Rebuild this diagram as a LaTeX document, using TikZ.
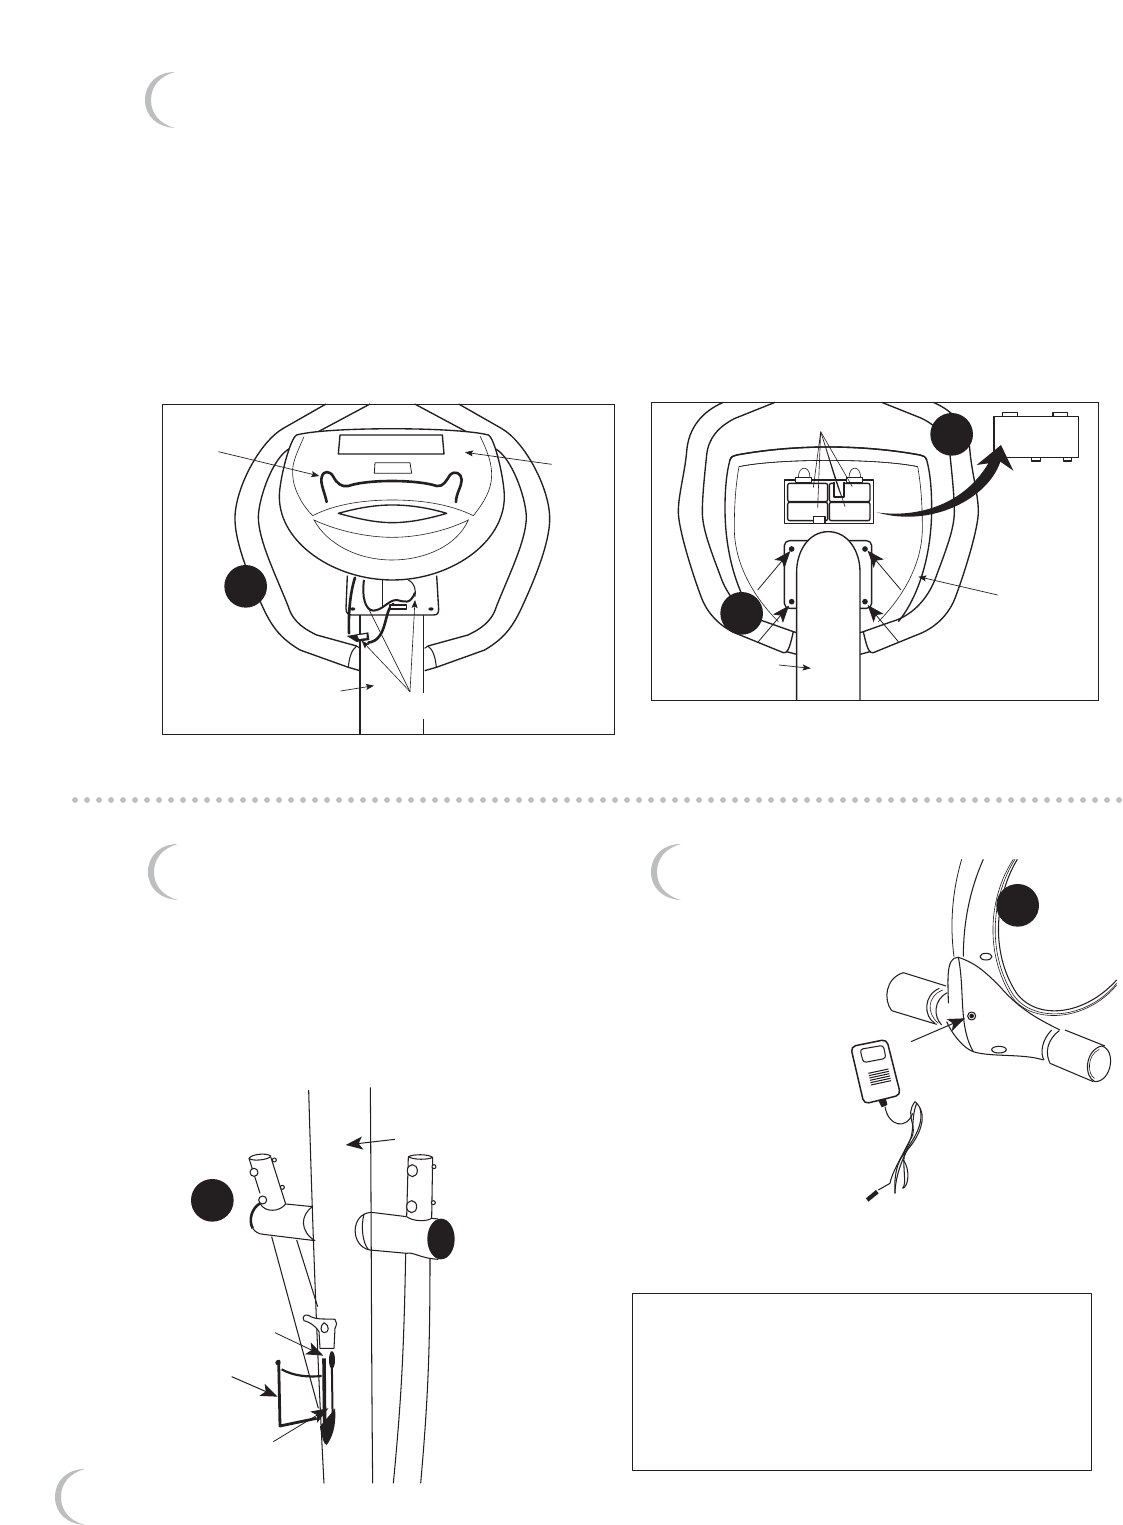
\documentclass[tikz,border=0pt]{standalone}
\usetikzlibrary{arrows.meta}
\definecolor{ink}{HTML}{231F20}
\definecolor{soft}{HTML}{BDBEC0}
\tikzset{
 ln/.style={draw=ink,line width=1.35pt,line join=round},
 md/.style={draw=ink,line width=1.05pt,line join=round},
 thin line/.style={draw=ink,line width=0.6pt},
 hv/.style={draw=ink,line width=2.6pt,line cap=round,line join=round},
 lead/.style={draw=ink,line width=0.7pt,-{Stealth[length=8pt,width=6pt,inset=1.5pt]}},
 leadb/.style={draw=ink,line width=0.8pt,-{Stealth[length=17pt,width=13pt,inset=4pt]}},
 badge/.style={fill=ink,draw=none},
 frame/.style={draw=ink,line width=0.9pt},
 zoomed/.style={x=0.33333pt,y=-0.33333pt},
}
\newcommand{\crescent}[2]{\fill[soft,shift={(#1,#2)}] (30,0) .. controls (12,0) and (0,12) .. (0,28) .. controls (0,44) and (12,55) .. (30,56) .. controls (15,52) and (6,42) .. (6,28) .. controls (6,14) and (15,4) .. (30,0) -- cycle;}
\begin{document}
\begin{tikzpicture}[x=1pt,y=-1pt]
\useasboundingbox (0,0) rectangle (1123,1525);
\fill[white] (0,0) rectangle (1123,1525);
\crescent{145}{72}
\crescent{148}{844}
\crescent{651}{844}
\crescent{55}{1469}
\foreach \i in {0,...,87} \fill[soft] (75+12*\i,800) circle (2.9);
\draw[md,line width=0.8pt] (632,1293) rectangle (1091,1470);

% ---------- panel 1
\begin{scope}[zoomed,shift={(480,1200)}]
\def\halfA{
 \draw[ln] (498,12) -- (370,85) .. controls (300,125) and (228,260) .. (225,350) .. controls (222,430) and (280,560) .. (310,625) .. controls (340,690) and (370,720) .. (420,750) -- (565,802) -- (600,812);
 \draw[md] (565,802) .. controls (568,770) and (575,750) .. (590,738) -- (600,745);
 \draw[ln] (630,12) -- (475,95);
 \draw[ln] (390,145) .. controls (340,170) and (297,290) .. (295,350) .. controls (295,420) and (345,520) .. (385,620) .. controls (400,670) and (440,690) .. (470,705) -- (590,738);
}
\halfA
\begin{scope}[xshift=464.67pt,xscale=-1]\halfA\end{scope}
\path[fill=white,ln] (410,105) .. controls (500,80) and (890,80) .. (985,105) .. controls (1005,115) and (1033,240) .. (1033,290) .. controls (1033,430) and (870,540) .. (697,540) .. controls (524,540) and (358,430) .. (358,290) .. controls (358,240) and (390,115) .. (410,105) -- cycle;
\draw[thin line] (432,110) .. controls (410,160) and (395,190) .. (398,225) .. controls (400,270) and (430,320) .. (458,347) .. controls (530,310) and (620,300) .. (697,300) .. controls (775,300) and (865,310) .. (940,347) .. controls (970,310) and (995,270) .. (995,225) .. controls (995,190) and (985,160) .. (960,108);
\draw[ln] (540,105) -- (847,105) -- (852,162) -- (535,162) -- cycle;
\draw[thin line,line width=0.8pt] (645,188) -- (750,188) -- (755,220) -- (643,220) -- cycle;
\draw[ln] (535,340) .. controls (600,322) and (650,315) .. (697,315) .. controls (745,315) and (800,322) .. (860,340) .. controls (800,358) and (745,368) .. (697,368) .. controls (650,368) and (600,358) .. (535,340) -- cycle;
\draw[thin line] (462,360) .. controls (530,392) and (620,412) .. (697,412) .. controls (775,412) and (860,392) .. (925,360) .. controls (890,440) and (790,480) .. (697,480) .. controls (590,480) and (500,430) .. (462,360) -- cycle;
\draw[hv] (500,306) .. controls (495,280) and (480,250) .. (485,232) .. controls (490,210) and (510,212) .. (520,230) .. controls (530,250) and (545,262) .. (565,258) .. controls (620,238) and (770,238) .. (830,258) .. controls (850,262) and (860,240) .. (870,225) .. controls (885,210) and (905,220) .. (905,240) .. controls (905,260) and (888,280) .. (888,306);
% plate and column
\draw[ln] (562,527) -- (558,625) .. controls (558,640) and (565,645) .. (575,645) -- (820,645) .. controls (832,645) and (836,640) .. (836,628) -- (830,527);
\fill[ink] (578,627) ellipse (8 and 5);
\fill[ink] (813,627) ellipse (8 and 5);
\draw[md] (667,540) -- (667,625);
\draw[ln] (600,645) -- (600,1003);
\draw[ln] (790,645) -- (790,880);
\draw[ln] (790,958) -- (790,1003);
% wires
\draw[hv] (585,533) .. controls (570,580) and (565,640) .. (567,700);
\draw[line width=2pt,draw=ink] (612,540) .. controls (605,590) and (615,630) .. (640,632) .. controls (670,630) and (685,600) .. (710,600) .. controls (735,605) and (750,615) .. (765,578);
\draw[md] (745,540) .. controls (765,550) and (768,570) .. (765,590);
\draw[hv] (700,612) .. controls (670,630) and (685,720) .. (625,728);
\draw[md,fill=white] (690,615) rectangle (740,627);
\fill[ink] (560,708) -- (625,697) -- (628,720) -- (590,726) -- cycle;
\fill[white] (592,706) -- (620,702) -- (620,714) -- (597,717) -- cycle;
% leaders
\draw[lead] (175,155) -- (478,228);
\draw[lead] (1175,193) -- (915,157);
\draw[lead] (542,873) -- (642,857);
\draw[lead,line width=0.6pt] (750,875) -- (605,722);
\draw[thin line] (750,875) -- (625,625);
\draw[lead,line width=0.6pt] (750,875) -- (765,600);
\fill[badge] (257,559) circle (64);
\draw[frame] (8,12) rectangle (1363,1003);
\end{scope}

% ---------- panel 2
\begin{scope}[zoomed,shift={(1935,1185)}]
\def\halfB{
 \draw[ln] (235,22) .. controls (170,50) and (130,100) .. (125,170) .. controls (120,230) and (100,300) .. (100,350) .. controls (100,400) and (140,530) .. (170,610) .. controls (190,660) and (230,700) .. (285,720) -- (415,773) .. controls (425,775) and (432,770) .. (445,710) -- (360,680) .. controls (290,660) and (245,600) .. (225,540) .. controls (195,460) and (172,400) .. (172,350) .. controls (172,300) and (180,230) .. (185,180) .. controls (190,130) and (220,95) .. (270,70) -- (390,22);
 \draw[ln] (445,710) -- (455,713);
 \draw[ln] (425,770) -- (455,778);
 \draw[ln] (340,680) .. controls (290,620) and (240,500) .. (240,340) .. controls (240,280) and (245,230) .. (255,195) .. controls (258,185) and (265,182) .. (275,180) .. controls (450,148) and (650,148) .. (825,180) .. controls (835,182) and (842,185) .. (845,195);
 \draw[thin line] (400,680) .. controls (320,600) and (268,500) .. (268,400) .. controls (268,330) and (272,270) .. (282,215) .. controls (400,190) and (700,190) .. (818,215);
}
\halfB
\begin{scope}[xshift=366.67pt,xscale=-1]\halfB\end{scope}
\path[fill=white] (985,200) -- (1010,200) -- (1010,222) -- (995,222) -- cycle;
\draw[ln,line width=1.5pt] (418,255) rectangle (685,385);
\foreach \a/\b/\c/\d in {428/265/548/320,428/322/548/377,553/265/675/320,553/322/675/377}
 \draw[ln,rounded corners=2pt] (\a,\b) rectangle (\c,\d);
\draw[md,fill=white] (505,365) rectangle (540,385);
\draw[ln,fill=white] (452,262) -- (452,248) -- (500,248) -- (500,262) -- cycle;
\draw[ln,fill=white] (605,262) -- (605,248) -- (652,248) -- (652,262) -- cycle;
\draw[thin line] (460,248) .. controls (460,210) and (495,210) .. (495,248);
\draw[thin line] (612,248) .. controls (612,210) and (647,210) .. (647,248);
\draw[ln,fill=white,line width=1.5pt] (567,262) -- (567,306) -- (597,306) -- (597,262);
\draw[thin line] (505,278) -- (527,110) -- (518,338);
\draw[thin line] (590,305) .. controls (570,260) and (550,180) .. (527,110) -- (600,335);
\draw[thin line] (527,110) -- (622,275);
\draw[ln,rounded corners=5pt] (460,640) -- (418,640) -- (418,437) -- (680,437) -- (680,640) -- (640,640);
\fill[ink] (440,462) circle (8.5);
\fill[ink] (660,462) circle (8.5);
\fill[ink] (440,620) circle (8.5);
\fill[ink] (660,620) circle (8.5);
\path[fill=white,ln] (455,915) -- (455,530) .. controls (455,470) and (490,410) .. (550,410) .. controls (610,410) and (645,470) .. (645,530) -- (645,915);
\draw[leadb] (338,585) -- (436,468);
\draw[leadb] (340,740) -- (432,632);
\draw[leadb] (768,585) -- (668,467);
\draw[leadb] (760,740) -- (668,630);
\draw[lead] (1058,600) -- (820,545);
\draw[lead] (402,810) -- (497,820);
\fill[ink] (695,352) .. controls (800,368) and (950,340) .. (1030,205) -- (995,210) -- (1068,150) -- (1105,227) -- (1066,200) .. controls (1030,310) and (860,400) .. (695,352) -- cycle;
\draw[ln,line width=1.5pt] (1047,65) rectangle (1300,188);
\draw[md] (1073,65) -- (1073,53) -- (1117,53) -- (1117,65);
\draw[md] (1224,65) -- (1224,53) -- (1268,53) -- (1268,65);
\draw[md] (1160,188) -- (1160,198) -- (1187,198) -- (1187,188);
\draw[md] (1255,188) -- (1255,198) -- (1280,198) -- (1280,188);
\fill[badge] (920,118) circle (64);
\fill[badge] (290,655) circle (64);
\draw[frame] (20,22) rectangle (1360,915);
\end{scope}

% ---------- panel 3
\begin{scope}[zoomed,shift={(540,3240)}]
\draw[md] (386,30) .. controls (395,350) and (410,800) .. (432,1210);
\draw[md] (571,22) .. controls (574,400) and (574,800) .. (578,1210);
\draw[leadb,line width=1pt] (645,178) -- (497,195);
\fill[badge] (97,361) circle (64);
% left tube
\draw[md] (207,235) .. controls (215,222) and (260,218) .. (272,228) .. controls (268,240) and (215,245) .. (207,235);
\draw[md] (207,235) -- (240,340);
\draw[md] (272,230) -- (317,372);
\draw[md,fill=white] (222,277) circle (12);
\draw[md,fill=white] (248,360) circle (12);
\draw[md,fill=white] (283,240) circle (6);
\draw[md,fill=white] (307,322) circle (6);
\draw[md] (240,370) .. controls (255,400) and (300,395) .. (317,372) -- (398,380) .. controls (360,405) and (360,455) .. (405,482) -- (250,463) .. controls (235,462) and (225,455) .. (218,445);
\draw[line width=2.6pt,draw=ink] (240,370) .. controls (215,385) and (205,420) .. (218,445);
\draw[md] (275,470) -- (415,985);
\draw[md] (350,480) -- (413,680);
% bracket
\draw[md,fill=white] (385,706) .. controls (410,722) and (440,715) .. (465,718) .. controls (472,725) and (470,735) .. (465,745) -- (462,805) -- (420,805) -- (417,755) .. controls (405,735) and (385,725) .. (372,722) .. controls (365,710) and (375,702) .. (385,706) -- cycle;
\draw[md] (432,728) .. controls (450,735) and (448,760) .. (432,758) .. controls (420,755) and (420,738) .. (432,728);
% cage
\draw[line width=2.8pt,draw=ink,line join=round] (296,840) -- (300,1038) -- (410,1015);
\fill[ink] (294,848) circle (8);
\draw[line width=2.2pt,draw=ink] (305,868) .. controls (340,888) and (385,892) .. (425,888);
\draw[line width=3.6pt,draw=ink] (432,835) -- (434,1050);
\draw[line width=2pt,draw=ink] (455,815) -- (458,1020);
\fill[ink] (456,840) ellipse (9 and 26);
\fill[ink] (420,1040) .. controls (425,1070) and (432,1095) .. (440,1095) .. controls (455,1075) and (470,1040) .. (465,985) .. controls (455,1000) and (435,1020) .. (420,1040) -- cycle;
\draw[leadb] (285,758) -- (430,827);
\draw[leadb,line width=1pt] (155,890) -- (293,950);
\draw[leadb] (280,1085) -- (445,985);
% right tube
\draw[md] (685,230) .. controls (700,222) and (745,222) .. (758,232) .. controls (745,240) and (700,240) .. (685,230);
\draw[md] (685,230) -- (680,410);
\draw[md] (758,232) -- (755,415);
\draw[md,fill=white] (697,272) ellipse (15 and 18);
\draw[md,fill=white] (695,380) ellipse (15 and 18);
\draw[md,fill=white] (762,260) circle (6);
\draw[md,fill=white] (760,368) circle (6);
\draw[md] (680,410) .. controls (700,425) and (740,425) .. (755,415) -- (775,417);
\draw[md] (574,397) -- (680,410);
\draw[md] (574,397) .. controls (510,400) and (510,500) .. (570,510) -- (680,520) .. controls (700,515) and (720,535) .. (775,538);
\draw[md] (552,402) .. controls (542,440) and (548,490) .. (565,508);
\fill[ink] (783,477) ellipse (41 and 61);
\draw[md] (677,520) .. controls (672,800) and (665,950) .. (640,1210);
\draw[md] (750,535) .. controls (750,800) and (745,950) .. (722,1210);
\end{scope}

% ---------- panel 4
\begin{scope}[zoomed,shift={(2460,2550)}]
\draw[thin line,line width=0.8pt] (425,28) .. controls (395,130) and (390,230) .. (402,320);
\draw[md] (490,28) .. controls (445,130) and (430,230) .. (430,320);
\draw[md] (592,28) .. controls (530,130) and (505,300) .. (590,430) .. controls (650,510) and (790,500) .. (890,390);
\draw[thin line] (585,28) .. controls (520,130) and (495,300) .. (580,435) .. controls (640,520) and (800,510) .. (890,400);
\draw[thin line] (580,28) .. controls (512,130) and (488,300) .. (575,440) .. controls (635,525) and (800,515) .. (890,405);
% housing
\draw[md] (385,460) .. controls (385,400) and (375,320) .. (415,322) .. controls (470,340) and (500,370) .. (540,410) .. controls (600,480) and (660,510) .. (720,540);
\draw[md] (380,515) .. controls (395,550) and (430,595) .. (460,605) .. controls (510,622) and (610,610) .. (670,630);
\draw[md] (415,322) .. controls (435,420) and (415,530) .. (460,605);
\draw[md] (498,320) ellipse (18 and 10);
\draw[md] (537,599) ellipse (22 and 10);
\draw[md] (455,498) circle (12);
\fill[ink] (455,498) circle (7);
% left grip
\draw[md] (250,368) -- (378,408);
\draw[md] (215,482) -- (350,523);
\draw[md] (250,368) .. controls (195,385) and (190,450) .. (215,482);
\draw[md] (358,415) .. controls (310,435) and (310,500) .. (345,520);
\draw[thin line] (368,420) .. controls (320,440) and (320,490) .. (355,520);
\draw[md] (382,428) .. controls (340,450) and (340,500) .. (365,525);
% right grip
\draw[md] (735,540) -- (855,588);
\draw[md] (690,640) -- (820,695);
\draw[md] (845,588) .. controls (795,600) and (790,680) .. (825,695) .. controls (875,695) and (890,600) .. (845,588) -- cycle;
\draw[thin line] (838,598) .. controls (800,615) and (802,675) .. (824,685);
\draw[md] (695,540) .. controls (665,570) and (660,610) .. (672,630);
\draw[md] (718,542) .. controls (680,570) and (675,610) .. (690,640);
% adapter
\draw[ln,line width=1.5pt,rounded corners=5pt] (92,590) -- (200,568) -- (242,735) -- (132,762) -- cycle;
\draw[md,rounded corners=3pt] (120,598) -- (190,586) -- (198,625) -- (130,638) -- cycle;
\foreach \k in {0,1,2,3,4,5} \draw[md] (145+1.6*\k,670+7*\k) -- (205+1.6*\k,657+7*\k);
\fill[ink] (175,752) -- (198,746) -- (202,765) -- (185,772) -- cycle;
\draw[md] (195,770) .. controls (205,830) and (260,840) .. (278,790);
\draw[md] (285,755) .. controls (250,800) and (300,830) .. (270,870) .. controls (240,930) and (215,970) .. (210,1000);
\draw[md] (285,755) .. controls (325,790) and (305,850) .. (262,900) .. controls (235,950) and (225,1000) .. (225,1030);
\draw[md] (290,760) .. controls (270,810) and (290,850) .. (255,900) .. controls (245,950) and (262,1000) .. (248,1015);
\draw[md] (300,775) .. controls (315,830) and (270,880) .. (240,930) .. controls (220,970) and (225,1020) .. (225,1030);
\draw[md] (250,930) .. controls (272,960) and (265,1010) .. (248,1015);
\draw[md] (175,1020) -- (210,1000);
\fill[ink] (138,1045) -- (168,1020) -- (176,1030) -- (145,1055) -- cycle;
\draw[leadb,line width=1pt] (273,575) -- (435,505);
\fill[badge] (593,166) circle (64);
\end{scope}
\end{tikzpicture}
\end{document}
